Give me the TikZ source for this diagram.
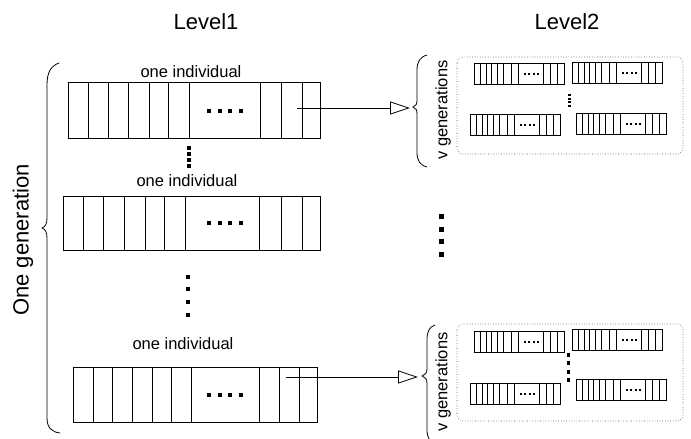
\documentclass[tikz,border=0pt]{standalone}
\usepackage{fontspec}
\setmainfont{Liberation Sans}
\usetikzlibrary{arrows.meta}
\tikzset{
  boxline/.style={draw=black, line width=0.9pt},
  cellline/.style={draw=black, line width=0.75pt},
  groupframe/.style={draw=black!75, dotted, line width=0.6pt, rounded corners=6pt},
  bracestyle/.style={draw=black, line width=0.8pt},
  linkarrow/.style={draw=black, line width=0.8pt, -{Triangle[open,length=20pt,width=13pt]}},
  leveltext/.style={font=\fontsize{22}{24}\selectfont, inner sep=0pt},
  indivtext/.style={font=\fontsize{16.5}{18}\selectfont, inner sep=0pt},
  gentext/.style={font=\fontsize{16.5}{18}\selectfont, inner sep=0pt, rotate=90},
}
\newcommand\indivsmall[2]{%
  \begin{scope}[shift={(#1,#2)}]
    \draw[cellline] (0,0) rectangle (90,21);
    \foreach \xx in {6,12,17,23,29,37,44,69,76,83} \draw[cellline] (\xx,0) -- (\xx,21);
    \foreach \k in {0,...,3} \fill ({50.5+\k*4.5-1},9.5) rectangle ++(2,2);
  \end{scope}}
\begin{document}
\begin{tikzpicture}[x=1pt,y=-1pt]
\useasboundingbox (0,0) rectangle (691,439);

% headings
\node[leveltext] (lev1) at (206,22) {Level1};
\node[leveltext] (lev2) at (567,22) {Level2};
\node[leveltext, rotate=90] (onegen) at (23,240) {One generation};

% big brace
\draw[bracestyle] (59,63) .. controls (51,66) and (47,72) .. (47,85) -- (47,218)
  .. controls (47,224) and (45,227) .. (42,228)
  .. controls (45,229) and (47,232) .. (47,238) -- (47,418)
  .. controls (47,428) and (52,432) .. (60,433);

% individual 1
\node[indivtext] (lab1) at (191,72) {one individual};
\draw[boxline] (68,82) rectangle (320,138);
\foreach \xx in {88,108,128,149,168,189,260,281,302} \draw[cellline] (\xx,82) -- (\xx,138);
\foreach \k in {0,...,3} \fill ({209+\k*10.7-2},109) rectangle ++(4,4);
\foreach \yy in {146,152,158,164} \fill (187,\yy) rectangle ++(4,4);

% individual 2
\node[indivtext] (lab2) at (187,181) {one individual};
\draw[boxline] (63,196) rectangle (320,250);
\foreach \xx in {83,103,124,145,164,185,259,281,302} \draw[cellline] (\xx,196) -- (\xx,250);
\foreach \k in {0,...,3} \fill ({209+\k*10.7-2},221) rectangle ++(4,4);
\foreach \yy in {277,289,302,315} \fill (186,\yy-2) rectangle ++(4,4);

% individual 3
\node[indivtext] (lab3) at (183,344) {one individual};
\draw[boxline] (73,367) rectangle (317,422);
\foreach \xx in {93,112,132,152,171,191,259,279,299} \draw[cellline] (\xx,367) -- (\xx,422);
\foreach \k in {0,...,3} \fill ({209+\k*10.7-2},393) rectangle ++(4,4);

% middle dots on the right
\foreach \yy in {216,229,241,254} \fill (439,\yy-2) rectangle ++(4.5,4.5);

% top group
\coordinate (a1s) at (297,108);
\coordinate (a1e) at (410,108);
\draw[linkarrow] (a1s) -- (a1e);
\draw[bracestyle] (427,55) .. controls (420,57) and (417,62) .. (417,70) -- (417,100)
  .. controls (417,104) and (416,106) .. (413,107)
  .. controls (416,108) and (417,110) .. (417,114) -- (417,152)
  .. controls (417,161) and (420,165) .. (427,167);
\node[gentext] (gen1) at (443,110) {v generations};
\draw[groupframe] (457,57) rectangle (683,154);
\indivsmall{474}{63}
\indivsmall{572}{62}
\indivsmall{470}{114}
\indivsmall{576}{113}
\foreach \yy in {94,97.5,101,104.5} \fill (567.5,\yy) rectangle ++(3,2);

% bottom group
\coordinate (a2s) at (286,377);
\coordinate (a2e) at (418,377);
\draw[linkarrow] (a2s) -- (a2e);
\draw[bracestyle] (435,325) .. controls (429,327) and (427,332) .. (427,340) -- (427,369)
  .. controls (427,373) and (425,375) .. (422,376)
  .. controls (425,377) and (427,379) .. (427,383) -- (427,430)
  .. controls (427,438) and (430,442) .. (436,444);
\node[gentext] (gen2) at (443,382) {v generations};
\draw[groupframe] (457,324) rectangle (683,421);
\indivsmall{474}{331}
\indivsmall{572}{329}
\indivsmall{470}{383}
\indivsmall{576}{379}
\foreach \yy in {355,363,372,380} \fill (566.5,\yy-2) rectangle ++(3.5,3.5);
\end{tikzpicture}
\end{document}
